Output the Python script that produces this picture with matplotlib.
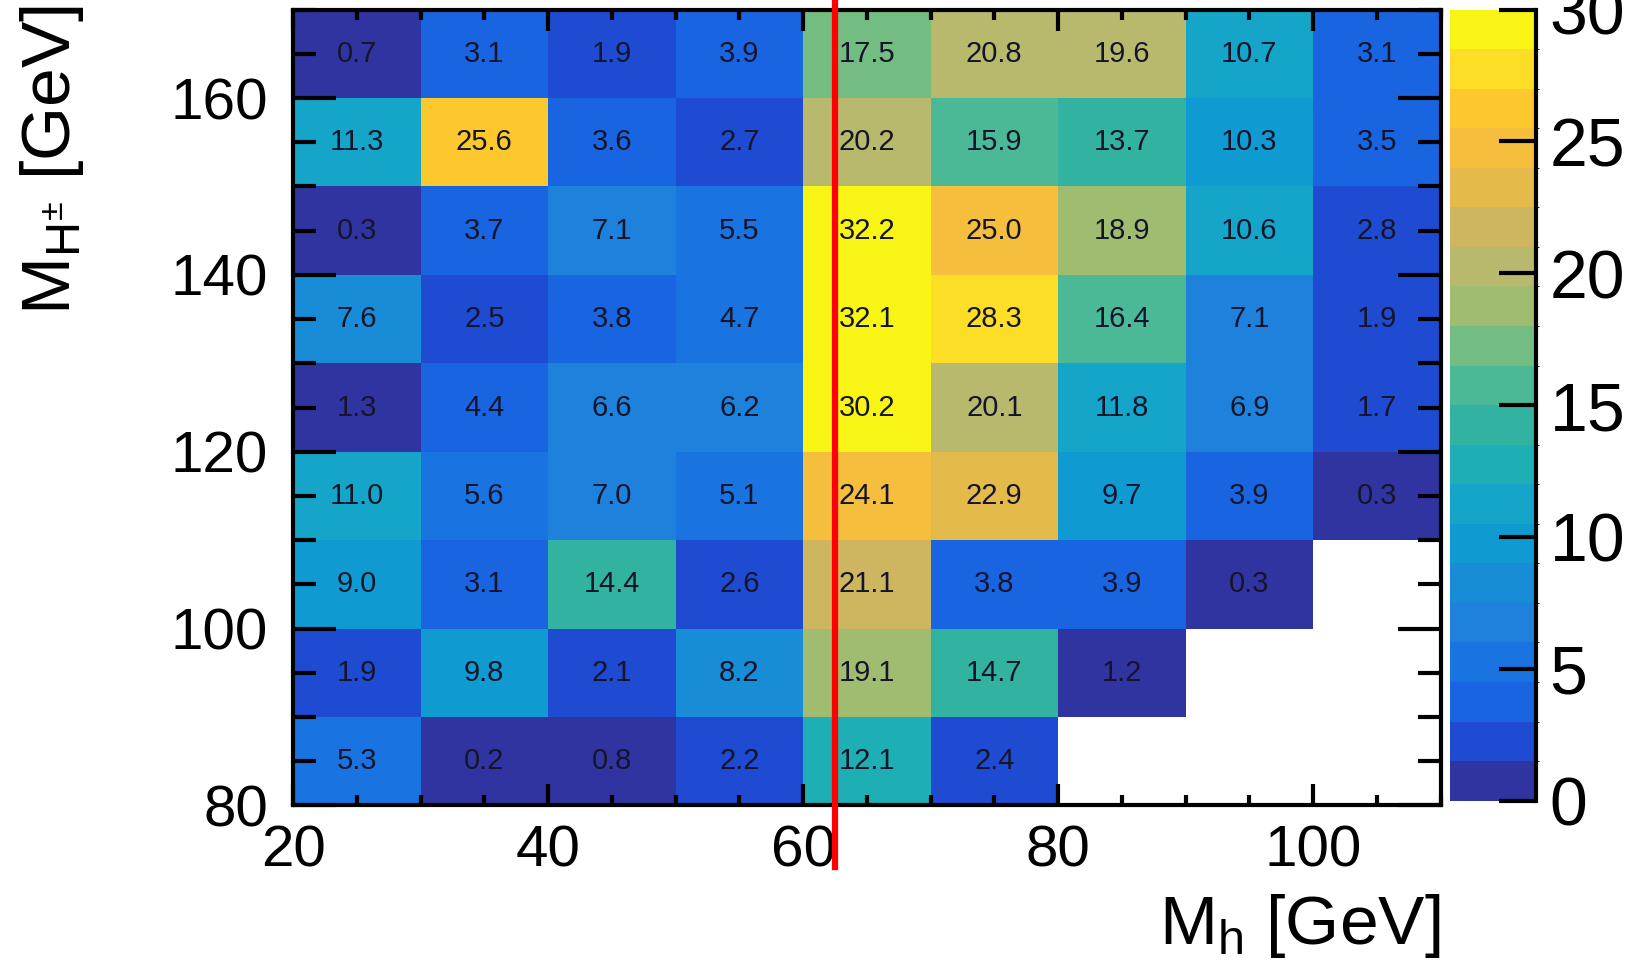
import numpy as np
import matplotlib
matplotlib.use('Agg')
import matplotlib.pyplot as plt
from matplotlib.colors import ListedColormap, BoundaryNorm
from matplotlib.ticker import MultipleLocator

plt.rcParams['font.family'] = ['Liberation Sans', 'DejaVu Sans']
plt.rcParams['mathtext.fontset'] = 'custom'
plt.rcParams['mathtext.rm'] = 'Liberation Sans'
plt.rcParams['mathtext.it'] = 'Liberation Sans:italic'

# bin edges
mh_edges = [20, 30, 40, 50, 60, 70, 80, 90, 100, 110]
mhc_edges = [80, 90, 100, 110, 120, 130, 140, 150, 160, 170]

# cell values, rows from M_H+- = 80-90 (bottom) up to 160-170 (top)
row_80 = [5.3, 0.2, 0.8, 2.2, 12.1, 2.4, np.nan, np.nan, np.nan]
row_90 = [1.9, 9.8, 2.1, 8.2, 19.1, 14.7, 1.2, np.nan, np.nan]
row_100 = [9.0, 3.1, 14.4, 2.6, 21.1, 3.8, 3.9, 0.3, np.nan]
row_110 = [11.0, 5.6, 7.0, 5.1, 24.1, 22.9, 9.7, 3.9, 0.3]
row_120 = [1.3, 4.4, 6.6, 6.2, 30.2, 20.1, 11.8, 6.9, 1.7]
row_130 = [7.6, 2.5, 3.8, 4.7, 32.1, 28.3, 16.4, 7.1, 1.9]
row_140 = [0.3, 3.7, 7.1, 5.5, 32.2, 25.0, 18.9, 10.6, 2.8]
row_150 = [11.3, 25.6, 3.6, 2.7, 20.2, 15.9, 13.7, 10.3, 3.5]
row_160 = [0.7, 3.1, 1.9, 3.9, 17.5, 20.8, 19.6, 10.7, 3.1]

half_higgs = 62.5  # red reference line

z = np.array([row_80, row_90, row_100, row_110, row_120,
              row_130, row_140, row_150, row_160])

# 20 contour colours (parula-like), levels 0..30 in steps of 1.5
band_colors = [
    (48, 52, 160), (30, 75, 210), (25, 100, 225), (25, 115, 225), (30, 130, 220),
    (25, 140, 215), (15, 155, 210), (20, 165, 200), (30, 175, 180), (50, 178, 160),
    (75, 185, 150), (115, 188, 130), (160, 188, 112), (185, 185, 110), (205, 182, 95),
    (228, 187, 75), (245, 190, 60), (252, 200, 45), (252, 222, 38), (248, 245, 20),
]
levels = np.linspace(0, 30, 21)
cmap = ListedColormap([tuple(c / 255 for c in rgb) for rgb in band_colors])
cmap.set_bad('white')
norm = BoundaryNorm(levels, cmap.N, clip=True)

fig = plt.figure(figsize=(16.37, 9.6), dpi=100)
ax = fig.add_axes([0.179, 0.161, 0.701, 0.829])
cax = fig.add_axes([0.886, 0.166, 0.052, 0.824])

mesh = ax.pcolormesh(mh_edges, mhc_edges, np.ma.masked_invalid(z), cmap=cmap, norm=norm)

xc = 0.5 * (np.array(mh_edges[:-1]) + np.array(mh_edges[1:]))
yc = 0.5 * (np.array(mhc_edges[:-1]) + np.array(mhc_edges[1:]))
for i, y in enumerate(yc):
    for j, x in enumerate(xc):
        if not np.isnan(z[i, j]):
            ax.text(x, y, '%.1f' % z[i, j], ha='center', va='center',
                    fontsize=21, color='#15152a')

ax.axvline(half_higgs, ymin=-0.077, ymax=1.02, color='#ff0000', lw=4.5, clip_on=False, zorder=5)

ax.set_xlim(20, 110)
ax.set_ylim(80, 170)
ax.xaxis.set_major_locator(MultipleLocator(20))
ax.xaxis.set_minor_locator(MultipleLocator(5))
ax.yaxis.set_major_locator(MultipleLocator(20))
ax.yaxis.set_minor_locator(MultipleLocator(5))
ax.tick_params(which='both', direction='in', top=True, right=True, width=3)
ax.tick_params(axis='x', which='major', length=15, labelsize=42, pad=14)
ax.tick_params(axis='x', which='minor', length=7.5)
ax.tick_params(axis='y', which='major', length=31, labelsize=42, pad=18)
ax.tick_params(axis='y', which='minor', length=16.5)
for s in ax.spines.values():
    s.set_linewidth(3)

cb = fig.colorbar(mesh, cax=cax, ticks=[0, 5, 10, 15, 20, 25, 30])
cb.outline.set_visible(False)
cax.tick_params(direction='in', length=27, width=3, labelsize=49, pad=10)
cax.plot([1, 1], [0, 1], transform=cax.transAxes, color='black', lw=3, clip_on=False)

fig.text(0.88, 0.017, r'M$_{\mathregular{h}}$ [GeV]', ha='right', va='baseline', fontsize=50)
fig.text(0.032, 0.995, r'M$_{\mathregular{H^{\pm}}}$ [GeV]', ha='center', va='top',
         rotation=90, fontsize=50)

fig.savefig('out.png', dpi=100)
